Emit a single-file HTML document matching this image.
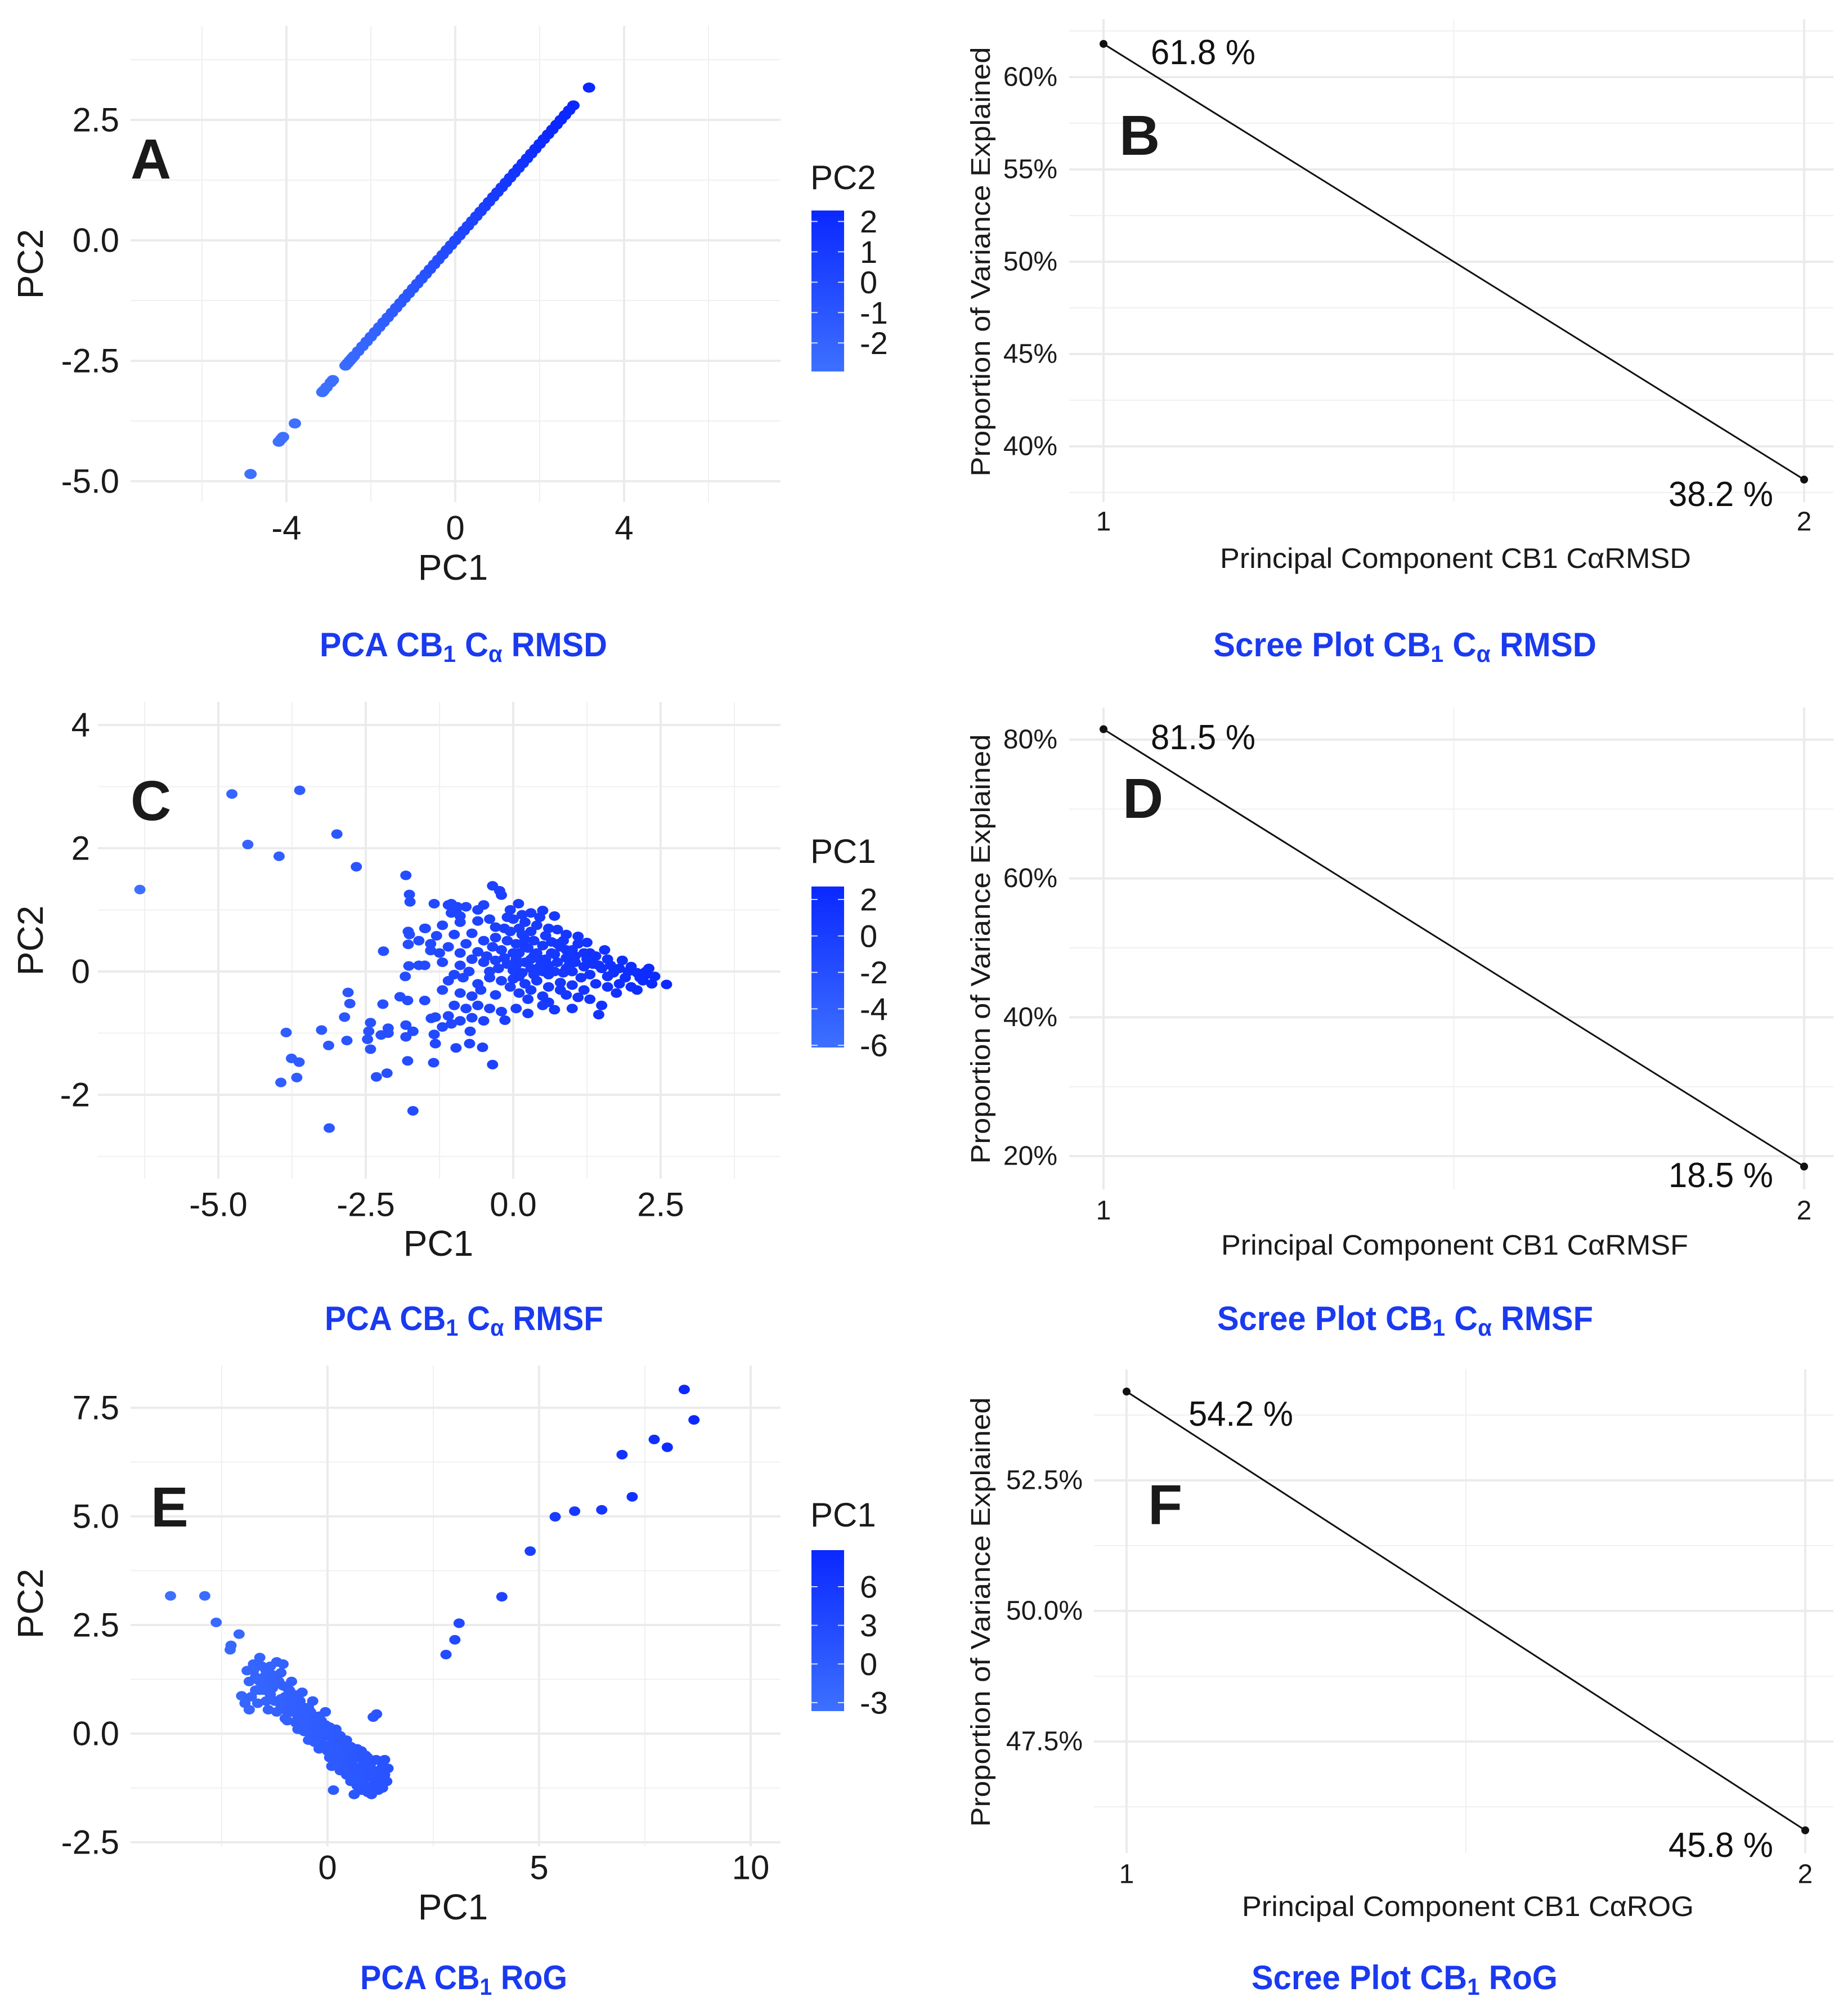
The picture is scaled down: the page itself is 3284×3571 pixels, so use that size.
<!DOCTYPE html>
<html><head><meta charset="utf-8"><style>
html,body{margin:0;padding:0;background:#fff;}
svg{display:block;font-family:"Liberation Sans",Arial,sans-serif;}
.t{fill:#1a1a1a;}
.sub{fill:#1a3af0;font-weight:bold;}
</style></head><body>
<svg id="fig" width="3284" height="3571" viewBox="0 0 3284 3571" xmlns="http://www.w3.org/2000/svg">
<defs>
<linearGradient id="cbar" x1="0" y1="0" x2="0" y2="1"><stop offset="0" stop-color="#0a28ff"/><stop offset="1" stop-color="#3d70ff"/></linearGradient>
</defs>
<g id="layer-grid"></g>
<g id="layer-marks"></g>
<g id="layer-text">
<text x="232" y="317" font-size="100" font-weight="bold" class="t">A</text>
<text x="1989" y="275" font-size="100" font-weight="bold" class="t">B</text>
<text x="232" y="1457" font-size="100" font-weight="bold" class="t">C</text>
<text x="1995" y="1453" font-size="100" font-weight="bold" class="t">D</text>
<text x="268" y="2712" font-size="100" font-weight="bold" class="t">E</text>
<text x="2040" y="2708" font-size="100" font-weight="bold" class="t">F</text>
<text x="568" y="1166" font-size="60" class="sub" textLength="511" lengthAdjust="spacingAndGlyphs">PCA CB<tspan font-size="42" dy="10">1</tspan><tspan dy="-10"> C</tspan><tspan font-size="42" dy="10">α</tspan><tspan dy="-10"> RMSD</tspan></text>
<text x="2156" y="1166" font-size="60" class="sub" textLength="681" lengthAdjust="spacingAndGlyphs">Scree Plot CB<tspan font-size="42" dy="10">1</tspan><tspan dy="-10"> C</tspan><tspan font-size="42" dy="10">α</tspan><tspan dy="-10"> RMSD</tspan></text>
<text x="577" y="2363" font-size="60" class="sub" textLength="495" lengthAdjust="spacingAndGlyphs">PCA CB<tspan font-size="42" dy="10">1</tspan><tspan dy="-10"> C</tspan><tspan font-size="42" dy="10">α</tspan><tspan dy="-10"> RMSF</tspan></text>
<text x="2163" y="2363" font-size="60" class="sub" textLength="668" lengthAdjust="spacingAndGlyphs">Scree Plot CB<tspan font-size="42" dy="10">1</tspan><tspan dy="-10"> C</tspan><tspan font-size="42" dy="10">α</tspan><tspan dy="-10"> RMSF</tspan></text>
<text x="640" y="3534" font-size="60" class="sub" textLength="368" lengthAdjust="spacingAndGlyphs">PCA CB<tspan font-size="42" dy="10">1</tspan><tspan dy="-10"> RoG</tspan></text>
<text x="2224" y="3534" font-size="60" class="sub" textLength="544" lengthAdjust="spacingAndGlyphs">Scree Plot CB<tspan font-size="42" dy="10">1</tspan><tspan dy="-10"> RoG</tspan></text>
<text x="805" y="1030" font-size="64" text-anchor="middle" class="t">PC1</text>
<text transform="translate(76,469) rotate(-90)" font-size="64" text-anchor="middle" class="t">PC2</text>
<text x="779" y="2231" font-size="64" text-anchor="middle" class="t">PC1</text>
<text transform="translate(76,1671) rotate(-90)" font-size="64" text-anchor="middle" class="t">PC2</text>
<text x="805" y="3410" font-size="64" text-anchor="middle" class="t">PC1</text>
<text transform="translate(76,2849) rotate(-90)" font-size="64" text-anchor="middle" class="t">PC2</text>
<text x="1440" y="336" font-size="60" class="t">PC2</text>
<text x="1440" y="1533" font-size="60" class="t">PC1</text>
<text x="1440" y="2712" font-size="60" class="t">PC1</text>
<text transform="translate(1759,465) rotate(-90)" font-size="48" text-anchor="middle" class="t" textLength="763" lengthAdjust="spacingAndGlyphs">Proportion of Variance Explained</text>
<text transform="translate(1759,1686) rotate(-90)" font-size="48" text-anchor="middle" class="t" textLength="763" lengthAdjust="spacingAndGlyphs">Proportion of Variance Explained</text>
<text transform="translate(1759,2864) rotate(-90)" font-size="48" text-anchor="middle" class="t" textLength="763" lengthAdjust="spacingAndGlyphs">Proportion of Variance Explained</text>
<text x="2168" y="1009" font-size="50" class="t" textLength="837" lengthAdjust="spacingAndGlyphs">Principal Component CB1 CαRMSD</text>
<text x="2170" y="2229" font-size="50" class="t" textLength="830" lengthAdjust="spacingAndGlyphs">Principal Component CB1 CαRMSF</text>
<text x="2207" y="3404" font-size="50" class="t" textLength="803" lengthAdjust="spacingAndGlyphs">Principal Component CB1 CαROG</text>
</g>
<script>
const rmsdPC1 = [-4.85,-4.18,-4.12,-4.08,-3.8,-3.15,-3.12,-3.05,-2.95,-2.9,-2.6,-2.55,-2.5,-2.45,-2.4,-2.3,-2.2,-2.1,-2.0,-1.9,-1.8,-1.7,-1.6,-1.5,-1.4,-1.3,-1.2,-1.1,-1.0,-0.9,-0.8,-0.7,-0.6,-0.5,-0.4,-0.3,-0.2,-0.1,0,0.1,0.2,0.3,0.4,0.5,0.6,0.7,0.8,0.9,1.0,1.1,1.2,1.3,1.4,1.5,1.6,1.7,1.8,1.9,2.0,2.1,2.2,2.3,2.4,2.5,2.6,2.7,2.8,3.17];
const rmsdPC2 = [-4.85,-4.18,-4.12,-4.08,-3.8,-3.15,-3.12,-3.05,-2.95,-2.9,-2.6,-2.55,-2.5,-2.45,-2.4,-2.3,-2.2,-2.1,-2.0,-1.9,-1.8,-1.7,-1.6,-1.5,-1.4,-1.3,-1.2,-1.1,-1.0,-0.9,-0.8,-0.7,-0.6,-0.5,-0.4,-0.3,-0.2,-0.1,0,0.1,0.2,0.3,0.4,0.5,0.6,0.7,0.8,0.9,1.0,1.1,1.2,1.3,1.4,1.5,1.6,1.7,1.8,1.9,2.0,2.1,2.2,2.3,2.4,2.5,2.6,2.7,2.8,3.17];

const rmsfPoints = [
[-6.33,1.33],[-4.77,2.88],[-3.62,2.94],[-4.5,2.06],[-3.97,1.87],[-2.99,2.23],[-2.66,1.70],[-1.82,1.56],[-1.76,1.25],[-1.75,1.13],
[-2.2,0.33],[-1.78,0.65],[-1.76,0.6],[-1.78,0.44],[-1.77,0.09],[-1.6,0.1],[-1.83,-0.08],[-1.92,-0.41],[-1.79,-0.47],[-2.21,-0.53],
[-2.8,-0.34],[-2.77,-0.52],[-2.86,-0.74],[-2.42,-0.83],[-3.25,-0.95],[-3.85,-0.99],[-2.45,-0.97],[-2.47,-1.1],[-2.42,-1.26],[-2.82,-1.12],
[-3.13,-1.2],[-2.24,-1.03],[-2.12,-0.92],[-2.12,-1.0],[-1.82,-0.87],[-1.82,-1.06],[-1.7,-0.97],[-3.76,-1.41],[-3.63,-1.47],[-3.94,-1.8],
[-3.67,-1.72],[-2.32,-1.71],[-2.14,-1.65],[-1.79,-1.45],[-1.7,-2.26],[-3.12,-2.54],[-1.35,-1.48],[-1.32,-1.17],[-1.34,-1.02],[-0.97,-1.24],
[-0.74,-1.17],[-0.52,-1.23],[-0.35,-1.51],[-0.73,-0.97],[-0.14,-0.79],[-1.5,-0.47],[-1.39,-0.76],[-1.32,-0.74],[-1.49,0.7],[-1.34,1.1],
[-1.4,0.34],[-1.05,1.1],[-0.97,0.98],[-0.35,1.39],[-0.23,1.31],[-0.2,1.24],[0.09,1.1],[0.5,0.99],[2.6,-0.21],
[-1.1,1.08],[-0.95,1.05],[-0.8,1.05],[-0.5,1.08],[-1.05,0.95],[-0.9,0.9],
[-1.5,0.7],[-1.2,0.75],[-0.9,0.8],[-0.6,0.82],[-0.4,0.85],[-0.1,0.88],[0.0,0.85],[0.2,0.8],[0.4,0.75],[0.6,0.7],[0.75,0.68],[1.1,0.57],[1.25,0.47],[-0.3,0.72],[0.1,0.7],[0.3,0.65],[0.9,0.6],[-0.7,0.62],[-1.0,0.6],[-1.3,0.58],
[-1.6,0.5],[-1.4,0.45],[-1.1,0.4],[-0.8,0.45],[-0.5,0.5],[-0.3,0.55],[-0.1,0.5],[0.05,0.45],[0.2,0.52],[0.35,0.5],[0.5,0.42],[0.65,0.48],[0.8,0.4],[1.0,0.35],[1.2,0.3],[1.4,0.25],[1.6,0.2],[-0.9,0.3],[-0.6,0.32],[-0.2,0.35],[0.1,0.3],[0.4,0.3],[0.7,0.28],[0.9,0.22],[-1.25,0.3],
[-1.5,0.1],[-1.2,0.15],[-0.9,0.1],[-0.7,0.2],[-0.5,0.15],[-0.3,0.18],[-0.1,0.12],[0.05,0.2],[0.2,0.15],[0.3,0.05],[0.45,0.2],[0.6,0.1],[0.75,0.15],[0.9,0.05],[1.05,0.15],[1.2,0.08],[1.35,0.12],[1.5,0.05],[1.65,0.1],[1.8,0.05],[1.95,0.0],[2.1,-0.02],[2.25,-0.05],[2.4,-0.08],[-0.4,0.0],[0.0,0.02],[0.15,-0.02],[0.5,0.0],[0.85,-0.02],[1.0,0.0],[1.3,-0.05],[1.6,-0.08],[1.9,-0.1],[2.2,-0.15],[2.35,-0.2],
[-1.1,-0.15],[-0.85,-0.1],[-0.6,-0.2],[-0.4,-0.1],[-0.2,-0.15],[0.0,-0.12],[0.2,-0.2],[0.4,-0.15],[0.6,-0.25],[0.8,-0.18],[1.0,-0.22],[1.2,-0.3],[1.4,-0.2],[1.6,-0.25],[1.75,-0.35],[2.0,-0.25],[-0.9,-0.35],[-0.7,-0.4],[-0.3,-0.38],[0.1,-0.35],[0.5,-0.4],[0.9,-0.38],[1.3,-0.45],[1.5,-0.55],[-1.2,-0.3],
[-1.0,-0.55],[-0.8,-0.6],[-0.6,-0.55],[-0.4,-0.6],[-0.2,-0.65],[0.05,-0.6],[0.25,-0.68],[0.5,-0.55],[0.7,-0.62],[1.0,-0.6],[1.45,-0.7],[-1.1,-0.72],[-0.9,-0.8],[-0.7,-0.75],[-0.5,-0.8],[-1.2,-0.9],[-1.05,-0.85],
[0.3,0.95],[0.7,0.9],[-0.05,1.0],[1.3,0.3],[1.8,-0.2],[2.1,-0.3],[2.3,0.05],[1.55,0.35],[0.25,-0.45],[0.6,-0.05],[0.35,0.25],[0.15,0.6],
[-0.05,0.65],[0.25,0.38],[0.55,0.58],[0.85,0.5],[1.1,0.45],[-0.35,0.4],[0.0,0.3],[0.3,0.2],[0.65,0.3],[0.95,0.1],[1.15,-0.1],[1.45,0.1],[1.7,-0.02],[2.0,0.08],[2.15,-0.1],
[-0.25,0.05],[0.1,-0.08],[0.35,-0.05],[0.7,0.0],[0.05,0.1],[0.45,0.08],[0.8,-0.3],[0.3,-0.3],[-0.05,-0.25],[-0.55,-0.3],[1.1,-0.42],[0.6,-0.5],[-0.15,0.7],[0.45,0.88],[0.15,0.92],[-0.6,1.0],
[-0.45,0.25],[-0.75,0.0],[-1.0,-0.05],[1.85,0.18],[2.25,0.0],[1.25,0.2],[0.55,0.2],[0.2,0.4],[-0.15,0.22],[0.9,0.35],[1.05,0.25],[0.75,0.45]
];

const rogPoints = [
[-3.71,3.17],[-2.9,3.17],[-2.63,2.56],[-2.09,2.29],[-2.28,2.03],[-2.3,1.93],[2.8,1.82],[3.01,2.16],[3.11,2.54],[4.12,3.15],
[4.79,4.2],[5.38,4.99],[5.84,5.12],[6.48,5.15],[6.96,6.42],[7.2,5.45],[7.72,6.77],[8.03,6.59],[8.43,7.92],[8.66,7.22],
[1.08,0.38],[1.16,0.45],[-2.03,0.87],[-1.95,0.7],[-1.85,0.55],[-1.6,1.75],[-1.05,1.6],[0.8,-0.4],[0.9,-0.5],
[-1.9,1.45],[-1.85,1.2],[-1.8,0.85],[-1.75,1.6],[-1.7,1.3],[-1.7,1.0],[-1.65,0.7],
[-1.55,1.55],[-1.5,1.3],[-1.5,1.0],[-1.45,0.75],[-1.4,1.15],[-1.3,1.35],[-1.3,1.05],[-1.25,0.75],[-1.2,0.5],[-1.15,1.2],[-1.2,1.65],
[-1.05,1.1],[-1.0,0.85],[-1.0,0.55],[-0.95,0.3],[-0.9,1.0],[-0.9,0.7],[-0.8,0.9],[-0.75,0.6],[-0.7,0.35],[-0.7,0.1],[-0.65,0.75],[-0.6,0.45],
[-0.55,0.6],[-0.5,0.35],[-0.45,0.1],[-0.45,-0.15],[-0.4,0.5],[-0.35,0.2],[-0.3,0.4],[-0.25,0.15],[-0.2,-0.1],[-0.2,-0.35],[-0.15,0.3],[-0.1,0.0],
[-0.05,0.2],[0.0,-0.05],[0.05,-0.3],[0.05,-0.55],[0.1,0.05],[0.12,-0.2],[0.14,-1.3],[0.2,-0.1],[0.25,-0.35],[0.3,-0.6],[0.3,-0.85],[0.35,-0.2],[0.38,-0.5],
[0.45,-0.35],[0.5,-0.6],[0.55,-0.85],[0.55,-1.1],[0.6,-0.45],[0.62,-0.75],[0.63,-1.4],[0.7,-0.55],[0.75,-0.8],[0.8,-1.05],[0.8,-1.3],[0.85,-0.65],[0.88,-0.95],
[0.95,-0.75],[1.0,-1.0],[1.05,-1.25],[1.04,-1.4],[1.1,-0.85],[1.12,-1.1],[1.2,-0.9],[1.25,-1.05],[1.3,-0.75],[1.35,-0.95],[1.43,-0.8],[1.4,-1.1],
[-1.6,1.2],[-1.35,0.9],[-1.1,0.8],[-0.85,0.5],[-0.6,0.25],[-0.35,0.0],[-0.1,-0.25],[0.15,-0.45],[0.4,-0.7],[0.65,-0.95],[0.9,-1.2],[0.7,-1.2],[0.45,-0.95],
[-1.45,1.45],[-1.2,1.25],[-0.95,1.05],[-0.7,0.8],[-0.45,0.6],[-0.2,0.4],[0.05,0.15],[0.3,-0.05],[0.55,-0.3],[0.8,-0.55],[1.05,-0.65],[1.3,-1.25],[0.2,-0.7],
[-1.75,1.45],[-1.6,1.0],[-1.35,1.55],[-1.1,1.4],[-1.1,0.65],[-0.85,1.2],[-0.85,0.75],[-0.6,0.95],[-0.55,0.05],[-0.35,0.75],[-0.3,-0.2],[-0.05,0.5],[0.0,-0.4],[0.2,0.1],[0.25,-0.65],
[0.45,-0.15],[0.5,-0.95],[0.7,-0.35],[0.75,-1.0],[0.95,-0.55],[0.95,-1.35],[1.15,-0.6],[1.2,-1.3],[1.35,-0.6],[1.0,-0.85],[-1.4,0.55],[-1.0,0.35],[-0.75,0.25],[-0.25,-0.05],[0.1,-0.75]
];

const screeBComp = [1, 2];
const screeBVals = [61.8, 38.2];
const screeDComp = [1, 2];
const screeDVals = [81.5, 18.5];
const screeFComp = [1, 2];
const screeFVals = [54.2, 45.8];

const ticksA_x = [-4, 0, 4];
const ticksA_y = [2.5, 0, -2.5, -5];
const ticksC_x = [-5, -2.5, 0, 2.5];
const ticksC_y = [4, 2, 0, -2];
const ticksE_x = [0, 5, 10];
const ticksE_y = [7.5, 5, 2.5, 0, -2.5];
const ticksB_y = [40, 45, 50, 55, 60];
const ticksD_y = [20, 40, 60, 80];
const ticksF_y = [47.5, 50, 52.5];
const legendA = [2, 1, 0, -1, -2];
const legendC = [2, 0, -2, -4, -6];
const legendE = [6, 3, 0, -3];

const NS = 'http://www.w3.org/2000/svg';
const gridL = document.getElementById('layer-grid');
const markL = document.getElementById('layer-marks');
const textL = document.getElementById('layer-text');
function mk(tag, attrs, parent){
  const e = document.createElementNS(NS, tag);
  for (const k in attrs) e.setAttribute(k, attrs[k]);
  parent.appendChild(e);
  return e;
}
function lin(d0, d1, r0, r1){ return v => r0 + (v - d0) * (r1 - r0) / (d1 - d0); }
function fmt(v, dec){ return v.toFixed(dec); }
function lerpColor(t){
  const a=[0x3d,0x70,0xff], b=[0x0a,0x28,0xff];
  const c=a.map((x,i)=>Math.round(x+(b[i]-x)*t));
  return 'rgb('+c.join(',')+')';
}

function gridLines(box, xs, ys, xMinor, yMinor, sx, sy){
  xMinor.forEach(v=>{ const l=mk('line',{x1:sx(v),x2:sx(v),y1:box.t,y2:box.b,stroke:'#f0f0f0','stroke-width':2},gridL);
      });
  yMinor.forEach(v=>{ const l=mk('line',{x1:box.l,x2:box.r,y1:sy(v),y2:sy(v),stroke:'#f0f0f0','stroke-width':2},gridL);
      });
  xs.forEach(v=>{ const l=mk('line',{x1:sx(v),x2:sx(v),y1:box.t,y2:box.b,stroke:'#ebebeb','stroke-width':4},gridL);
      });
  ys.forEach(v=>{ const l=mk('line',{x1:box.l,x2:box.r,y1:sy(v),y2:sy(v),stroke:'#ebebeb','stroke-width':4},gridL);
      });
}

function scatterPanel(cfg){
  const sx = lin(cfg.x0v, cfg.x1v, cfg.x0p, cfg.x1p);
  const sy = lin(cfg.y0v, cfg.y1v, cfg.y0p, cfg.y1p);
  gridLines(cfg.box, cfg.xt, cfg.yt, cfg.xm, cfg.ym, sx, sy);
  cfg.xt.forEach(v=>{
    const t=mk('text',{x:sx(v),y:cfg.xly,'font-size':60,'text-anchor':'middle','dominant-baseline':'central',fill:'#1a1a1a'},textL);
    t.textContent = fmt(v, cfg.xdec);
     
  });
  cfg.yt.forEach(v=>{
    const t=mk('text',{x:cfg.ylx,y:sy(v),'font-size':60,'text-anchor':'end','dominant-baseline':'central',fill:'#1a1a1a'},textL);
    t.textContent = fmt(v, cfg.ydec);
     
  });
  const cv = cfg.colorBy;
  cfg.pts.forEach((p,i)=>{
    const v = cv(p,i);
    const tt = Math.max(0,Math.min(1,(v-cfg.lgBot)/(cfg.lgTop-cfg.lgBot)));
    const c=mk('ellipse',{cx:sx(p[0]),cy:sy(p[1]),rx:cfg.rx,ry:cfg.ry,fill:lerpColor(tt)},markL);
     
  });
  const lg = cfg.lg;
  const r=mk('rect',{x:1442,y:lg.t,width:58,height:lg.b-lg.t,fill:'url(#cbar)'},markL);
   
  const ly = lin(cfg.lgTop, cfg.lgBot, lg.t, lg.b);
  cfg.lgTicks.forEach(v=>{
    const a=mk('line',{x1:1442,x2:1453,y1:ly(v),y2:ly(v),stroke:'#fff','stroke-width':2,opacity:0.8},markL);
     
    const b=mk('line',{x1:1489,x2:1500,y1:ly(v),y2:ly(v),stroke:'#fff','stroke-width':2,opacity:0.8},markL);
     
    const t=mk('text',{x:1528,y:ly(v),'font-size':56,'dominant-baseline':'central',fill:'#1a1a1a'},textL);
    t.textContent = String(v);
     
  });
}

const rmsdPts = rmsdPC1.map((x,i)=>[x, rmsdPC2[i]]);
scatterPanel({box:{l:232,r:1387,t:46,b:892}, x0v:0,x1v:4,x0p:809,x1p:1109, y0v:0,y1v:-2.5,y0p:427,y1p:641,
  xt:ticksA_x, yt:ticksA_y, xm:[-6,-2,2,6], ym:[3.75,1.25,-1.25,-3.75], xly:938, ylx:212, xdec:0, ydec:1, rx:11, ry:9,
  pts:rmsdPts, colorBy:p=>p[1], lg:{t:374,b:660}, lgTop:2.36, lgBot:-2.94, lgTicks:legendA});
scatterPanel({box:{l:174,r:1387,t:1247,b:2094}, x0v:0,x1v:-5,x0p:912,x1p:388, y0v:0,y1v:2,y0p:1726,y1p:1507,
  xt:ticksC_x, yt:ticksC_y, xm:[-6.25,-3.75,-1.25,1.25,3.75], ym:[3,1,-1,-3], xly:2140, ylx:160, xdec:1, ydec:0, rx:10, ry:8.5,
  pts:rmsfPoints, colorBy:p=>p[0], lg:{t:1575,b:1861}, lgTop:2.71, lgBot:-6.12, lgTicks:legendC});
scatterPanel({box:{l:232,r:1387,t:2426,b:3280}, x0v:0,x1v:5,x0p:582,x1p:958, y0v:0,y1v:2.5,y0p:3080,y1p:2887,
  xt:ticksE_x, yt:ticksE_y, xm:[-2.5,2.5,7.5], ym:[6.25,3.75,1.25,-1.25], xly:3318, ylx:212, xdec:0, ydec:1, rx:10, ry:8.5,
  pts:rogPoints, colorBy:p=>p[0], lg:{t:2754,b:3040}, lgTop:8.84, lgBot:-3.66, lgTicks:legendE});

function screePanel(cfg){
  const sx = lin(1, 2, cfg.x1p, cfg.x2p);
  const sy = lin(cfg.y0v, cfg.y1v, cfg.y0p, cfg.y1p);
  gridLines(cfg.box, [1,2], cfg.yt, [1.5], cfg.ym, sx, sy);
  cfg.yt.forEach(v=>{
    const t=mk('text',{x:cfg.ylx,y:sy(v),'font-size':48,'text-anchor':'end','dominant-baseline':'central',fill:'#1a1a1a'},textL);
    t.textContent = fmt(v, cfg.ydec) + '%';
     
  });
  cfg.comp.forEach(v=>{
    const t=mk('text',{x:sx(v),y:cfg.xly,'font-size':48,'text-anchor':'middle','dominant-baseline':'central',fill:'#1a1a1a'},textL);
    t.textContent = String(v);
     
  });
  const d = cfg.comp.map((c,i)=>(i?'L':'M')+sx(c)+' '+sy(cfg.vals[i])).join(' ');
  const p = mk('path',{d:d,stroke:'#111',fill:'none','stroke-width':3},markL);
   
  cfg.comp.forEach((c,i)=>{
    const pt=mk('circle',{cx:sx(c),cy:sy(cfg.vals[i]),r:7,fill:'#111'},markL);
     
    const lab = cfg.labs[i];
    const t=mk('text',{x:lab[0],y:lab[1],'font-size':62,fill:'#111',textLength:186,lengthAdjust:'spacingAndGlyphs'},textL);
    t.textContent = cfg.vals[i].toFixed(1) + ' %';
     
  });
}
screePanel({box:{l:1900,r:3258,t:34,b:892}, x1p:1961, x2p:3206, y0v:60,y1v:40,y0p:137,y1p:793,
  yt:ticksB_y, ym:[37.5,42.5,47.5,52.5,57.5,62.5], ylx:1879, ydec:0, xly:927,
  comp:screeBComp, vals:screeBVals, labs:[[2045,114],[2965,899]]});
screePanel({box:{l:1900,r:3258,t:1257,b:2113}, x1p:1961, x2p:3206, y0v:80,y1v:20,y0p:1314,y1p:2054,
  yt:ticksD_y, ym:[30,50,70], ylx:1879, ydec:0, xly:2151,
  comp:screeDComp, vals:screeDVals, labs:[[2045,1331],[2965,2109]]});
screePanel({box:{l:1944,r:3258,t:2433,b:3292}, x1p:2002, x2p:3208, y0v:50,y1v:52.5,y0p:2862,y1p:2630,
  yt:ticksF_y, ym:[46.25,48.75,51.25,53.75], ylx:1924, ydec:1, xly:3330,
  comp:screeFComp, vals:screeFVals, labs:[[2112,2533],[2965,3299]]});
</script>
</svg>
</body></html>
